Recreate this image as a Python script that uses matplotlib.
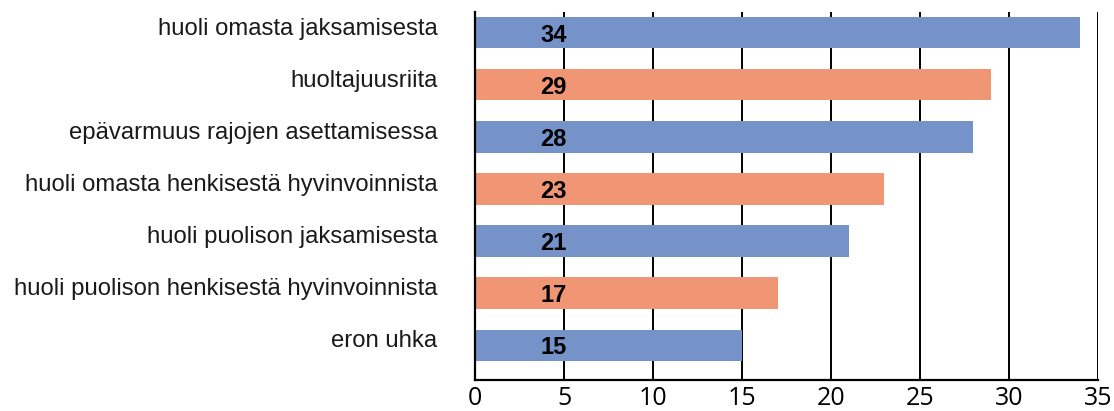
import matplotlib.pyplot as plt

# data
categories = ['huoli omasta jaksamisesta', 'huoltajuusriita', 'epävarmuus rajojen asettamisessa',
              'huoli omasta henkisestä hyvinvoinnista', 'huoli puolison jaksamisesta',
              'huoli puolison henkisestä hyvinvoinnista', 'eron uhka']
values = [34, 29, 28, 23, 21, 17, 15]
colors = ['#7593C9', '#F09674', '#7593C9', '#F09674', '#7593C9', '#F09674', '#7593C9']
xticks = [0, 5, 10, 15, 20, 25, 30, 35]

fig = plt.figure(figsize=(11.14, 4.11), dpi=100)
ax = fig.add_axes([0.4264, 0.0754, 0.5592, 0.8954])

y = list(range(len(categories)))
ax.barh(y, values, height=0.6, color=colors, zorder=3)

for yi, v in zip(y, values):
    ax.text(4.4, yi + 0.05, str(v), ha='center', va='center', fontsize=17,
            fontweight='bold', family='Liberation Sans', zorder=4)

# kategorioiden nimet: peruslinja hieman palkin keskikohdan alapuolella
for yi, name in zip(y, categories):
    ax.annotate(name, xy=(0, yi), xycoords=('axes fraction', 'data'),
                xytext=(-27, -1.5), textcoords='offset points', ha='right', va='baseline',
                fontsize=17.2, family='Liberation Sans', color='#1a1a1a')

ax.set_xlim(0, 35)
ax.set_ylim(6.67, -0.4)
ax.set_xticks(xticks)
ax.set_xticklabels([str(t) for t in xticks], fontsize=18, family='Open Sans')
ax.set_yticks([])
ax.tick_params(axis='x', length=0, pad=4)

ax.grid(axis='x', color='black', linewidth=1.4, zorder=1)
for s in ['top', 'right']:
    ax.spines[s].set_visible(False)
ax.spines['left'].set_linewidth(1.6)
ax.spines['bottom'].set_linewidth(1.6)
ax.spines['left'].set_zorder(5)

fig.savefig('out.png', dpi=100)
